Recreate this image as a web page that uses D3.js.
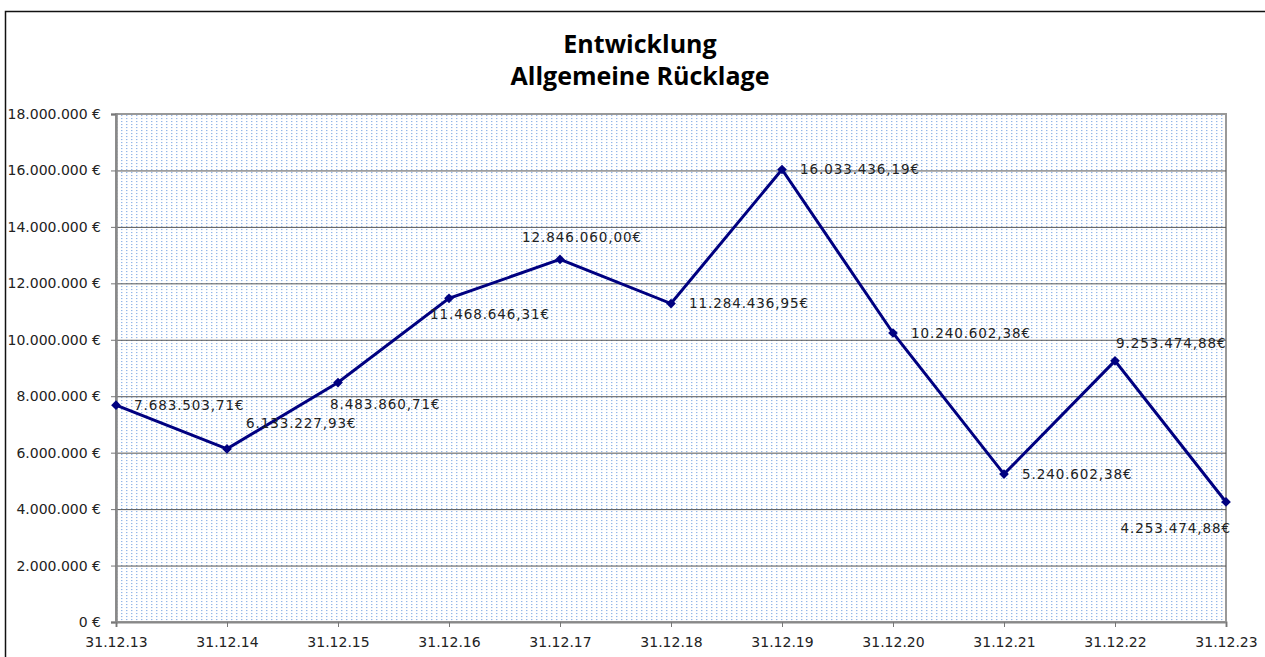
<!DOCTYPE html>
<html>
<head>
<meta charset="utf-8">
<script src="https://cdn.jsdelivr.net/npm/d3@7"></script>
<style>
body { margin: 0; background: #fff; }
</style>
</head>
<body>
<script>
// Data
var dates = ["31.12.13", "31.12.14", "31.12.15", "31.12.16", "31.12.17", "31.12.18",
	"31.12.19", "31.12.20", "31.12.21", "31.12.22", "31.12.23"];
var values = [7683503.71, 6133227.93, 8483860.71, 11468646.31, 12846060.00, 11284436.95,
	16033436.19, 10240602.38, 5240602.38, 9253474.88, 4253474.88];
var labelPlacement = ["right", "upright", "below", "belowleft", "aboveleft", "right",
	"right", "right", "right", "above", "belowleft2"];
var yTicks = [0, 2000000, 4000000, 6000000, 8000000, 10000000, 12000000, 14000000, 16000000, 18000000];
var titleLines = ["Entwicklung", "Allgemeine Rücklage"];

// Size
var width = 1265, height = 657;
var margin = {left: 116, right: 39, top: 114, bottom: 35};
var labelFont = "'DejaVu Sans', Verdana, sans-serif";

var svg = d3.select("body").append("svg")
	.attr("width", width)
	.attr("height", height);

// dotted fill
var pat = svg.append("defs").append("pattern")
	.attr("id", "dots")
	.attr("patternUnits", "userSpaceOnUse")
	.attr("width", 5)
	.attr("height", 3);
pat.append("rect").attr("width", 5).attr("height", 3).attr("fill", "#fff");
pat.append("rect").attr("x", 1).attr("y", 1).attr("width", 1.4).attr("height", 1.1)
	.attr("fill", "#5a8fdc").attr("opacity", 0.65);

// outer frame
svg.append("rect")
	.attr("x", 5.5).attr("y", 11.5)
	.attr("width", 1400).attr("height", 800)
	.attr("fill", "none")
	.attr("stroke", "#111")
	.attr("stroke-width", 1.5);

var x = d3.scalePoint()
	.domain(dates)
	.range([margin.left, width - margin.right]);

var y = d3.scaleLinear()
	.domain([0, 18000000])
	.range([height - margin.bottom, margin.top]);

// plot area
svg.append("rect")
	.attr("x", x.range()[0]).attr("y", y(18000000))
	.attr("width", x.range()[1] - x.range()[0])
	.attr("height", y(0) - y(18000000))
	.attr("fill", "url(#dots)")
	.attr("stroke", "#999")
	.attr("stroke-width", 2);

// gridlines
svg.append("g").selectAll("line")
	.data(yTicks.slice(1, -1))
	.enter().append("line")
	.attr("x1", x.range()[0]).attr("x2", x.range()[1])
	.attr("y1", function (d) { return y(d) + 0.5; })
	.attr("y2", function (d) { return y(d) + 0.5; })
	.attr("stroke", "#555")
	.attr("stroke-width", 1);

var loc = d3.formatLocale({decimal: ",", thousands: ".", grouping: [3], currency: ["", "€"]});
var fmtY = loc.format(",.0f");
var fmtLabel = loc.format(",.2f");

// y axis
var yAxis = svg.append("g")
	.attr("transform", "translate(" + x.range()[0] + ",0)")
	.call(d3.axisLeft(y).tickValues(yTicks).tickSize(5).tickPadding(10)
		.tickFormat(function (d) { return fmtY(d) + " €"; }));
yAxis.select(".domain").attr("stroke", "#888").attr("stroke-width", 2.5);
yAxis.selectAll(".tick line").attr("stroke", "#777");
yAxis.selectAll("text")
	.style("font-family", labelFont)
	.style("font-size", "14px")
	.attr("fill", "#222");

// x axis
var xAxis = svg.append("g")
	.attr("transform", "translate(0," + y(0) + ")")
	.call(d3.axisBottom(x).tickSize(5).tickPadding(10));
xAxis.select(".domain").attr("stroke", "#888").attr("stroke-width", 2);
xAxis.selectAll(".tick line").attr("stroke", "#777");
xAxis.selectAll("text")
	.style("font-family", labelFont)
	.style("font-size", "14px")
	.attr("fill", "#222");

// line
var line = d3.line()
	.x(function (d, i) { return x(dates[i]); })
	.y(function (d) { return y(d); });

svg.append("path")
	.datum(values)
	.attr("d", line)
	.attr("fill", "none")
	.attr("stroke", "#000080")
	.attr("stroke-width", 3)
	.attr("stroke-linejoin", "miter");

svg.append("g").selectAll("path")
	.data(values)
	.enter().append("path")
	.attr("d", d3.symbol().type(d3.symbolDiamond2).size(60))
	.attr("transform", function (d, i) { return "translate(" + x(dates[i]) + "," + y(d) + ")"; })
	.attr("fill", "#000080");

// data labels (offset from the point)
var placeOffset = {
	right: [18, 0, "start"],
	upright: [19, -26, "start"],
	above: [1, -18, "start"],
	below: [-8, 22, "start"],
	belowleft: [-19, 16, "start"],
	aboveleft: [-38, -22, "start"],
	belowleft2: [5, 26, "end"]
};
svg.append("g").selectAll("text")
	.data(values)
	.enter().append("text")
	.attr("x", function (d, i) { return x(dates[i]) + placeOffset[labelPlacement[i]][0]; })
	.attr("y", function (d, i) { return y(d) + placeOffset[labelPlacement[i]][1]; })
	.attr("dy", "0.35em")
	.attr("text-anchor", function (d, i) { return placeOffset[labelPlacement[i]][2]; })
	.style("font-family", labelFont)
	.style("font-size", "13.5px")
	.style("letter-spacing", "0.9px")
	.attr("fill", "#222")
	.text(function (d) { return fmtLabel(d) + "€"; });

// title
svg.append("g").selectAll("text")
	.data(titleLines)
	.enter().append("text")
	.attr("x", 640)
	.attr("y", function (d, i) { return 53 + i * 32; })
	.attr("text-anchor", "middle")
	.style("font-family", "'Open Sans', sans-serif")
	.style("font-weight", "bold")
	.style("font-size", "25px")
	.attr("fill", "#000")
	.text(function (d) { return d; });
</script>
</body>
</html>
